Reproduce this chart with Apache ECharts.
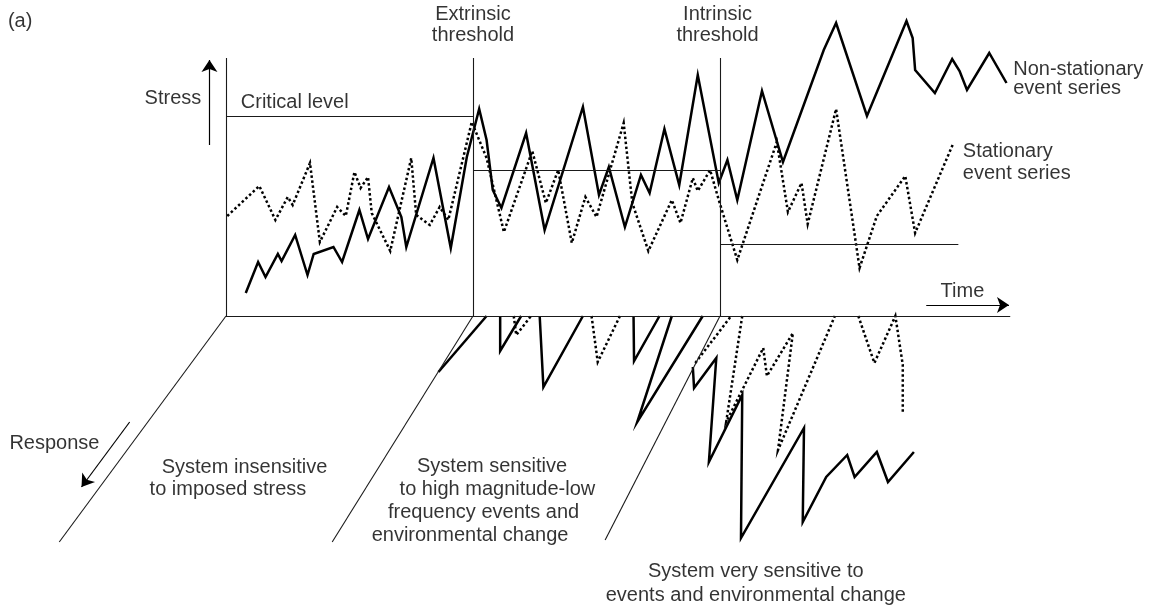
<!DOCTYPE html>
<html>
<head>
<meta charset="utf-8">
<script src="https://cdn.jsdelivr.net/npm/echarts@6/dist/echarts.min.js"></script>
<style>
  html, body { margin: 0; padding: 0; background: #fff; }
  #chart { width: 1155px; height: 609px; }
</style>
</head>
<body>
<div id="chart"></div>
<script>
// Time runs 0–100 through each regime (insensitive, sensitive, very sensitive);
// stress is scaled so the critical level sits at 100. Negative values below the
// time axis are system responses, drawn down toward the viewer.

// Stress event series: [time, stress]
const nonStationary = [
  [8, 11.5], [13, 27], [16, 19.5], [21, 31], [22.5, 27.5], [28, 40.5], [33, 20.5],
  [35.5, 31], [43.5, 34.5], [47, 27], [54, 53], [57.5, 38.5], [66, 64.5], [71, 49.5],
  [73, 34.5], [84, 79], [91, 34], [97.5, 79.5], [102.5, 103.5], [105.5, 88], [108, 63],
  [111.5, 54], [121.5, 91.5], [129, 43], [144.5, 104.5], [151, 60.5], [155, 74.5],
  [161.5, 44.5], [168, 70.5], [171.5, 61.5], [177.5, 93.5], [183.5, 65.5], [191, 120.5],
  [199.5, 66.5], [203, 78], [207, 58], [217, 112.5], [225.5, 77], [242, 133], [247, 146.5],
  [259.5, 100], [275.5, 147.5], [278, 139], [279, 123], [287, 111.5], [294, 128.5],
  [297, 122.5], [300, 113], [309, 131.5], [316, 116.5]
];
const stationary = [
  [0.5, 50], [13.5, 65], [20, 48], [25, 59.5], [27, 55.5], [34, 76.5], [38, 37],
  [45, 54.5], [48.5, 50], [52, 72], [54.5, 64], [57.5, 69.5], [59, 51.5], [66.5, 32.5],
  [75, 79], [77, 50.5], [82.5, 45.5], [86.5, 54.5], [90, 48], [99.5, 97], [105.5, 79],
  [112.5, 42], [124, 82.5], [129.5, 56.5], [134.5, 73], [140, 36.5], [145.5, 59.5],
  [150, 49.5], [161, 96.5], [164.5, 56.5], [171, 32.5], [180.5, 58], [184, 46.5],
  [189, 69], [191, 62.5], [196, 73], [199.5, 58], [207, 28], [223, 87], [227.5, 52],
  [233, 66.5], [235.5, 46], [247, 103.5], [256.5, 24], [263.5, 50], [275, 70],
  [279, 41.5], [294.5, 86.5]
];

// Response traces: [time, response] (response is negative = below the time axis)
const responseNonStationary = [
  [[105.5, 0], [86, -28]],
  [[111, 0], [111, -17.5], [119.5, 0]],
  [[127, 0], [128.5, -35.5], [144.5, 0]],
  [[165, 0], [165.2, -22.5], [175.5, 0]],
  [[180.5, 0], [166.5, -53], [193, 0]],
  [[189, -25.5], [189.5, -36], [198.5, -21], [195.5, -73], [209, -39.5], [208.5, -111],
   [234, -56], [233.5, -103], [243, -80.5], [251.5, -69.5], [254.5, -80.5], [263.5, -68],
   [268, -83], [278.5, -68]]
];
const responseStationary = [
  [[116.5, 0], [117.5, -9.5], [123.5, 0]],
  [[148, 0], [150.5, -23], [159.5, 0]],
  [[190, -23.5], [204.5, 0]],
  [[209, 0], [202.5, -53], [217.5, -16], [219, -30], [229.5, -8.5], [223.5, -67], [246.5, 0]],
  [[256, 0], [262.5, -23.5], [271, 0], [274, -24.5], [274, -48]]
];

// Reference levels and thresholds
const thresholdTimes = [0, 100, 200];
const thresholdTop = 129;
const criticalLevel = { level: 100, from: 0, to: 100 };
const extrinsicMean = { level: 73, from: 100, to: 200 };
const intrinsicMean = { level: 36, from: 200, to: 296.5 };
const timeAxisEnd = 317.5;
const responseAxisEnds = [[-67.5, -113], [43, -113], [153.5, -112]];

// Axis arrows
const stressArrow = [[-6.7, 85.5], [-6.7, 128]];
const timeArrow = [[283.5, 5.5], [317, 5.5]];
const responseArrow = [[-39, -53], [-58.5, -85.5]];

// Annotations: text and anchor in the same time/stress units
const annotations = [
  { text: '(a)', at: [-88.3, 147.5], align: 'left' },
  { text: 'Stress', at: [-10, 109], align: 'right' },
  { text: 'Critical level', at: [6, 107], align: 'left' },
  { text: 'Extrinsic\nthreshold', at: [100, 145.3], align: 'center', lh: 21 },
  { text: 'Intrinsic\nthreshold', at: [199, 145.3], align: 'center', lh: 21 },
  { text: 'Non-stationary\nevent series', at: [318.7, 118.6], align: 'left', lh: 19.5 },
  { text: 'Stationary\nevent series', at: [298.3, 76.8], align: 'left', lh: 21.5 },
  { text: 'Time', at: [289.3, 12.2], align: 'left' },
  { text: 'Response', at: [-87.7, -63.6], align: 'left' },
  { text: 'System insensitive', at: [7.5, -75.8], align: 'center' },
  { text: 'to imposed stress', at: [0.8, -86.6], align: 'center' },
  { text: 'System sensitive', at: [107.7, -75.4], align: 'center' },
  { text: 'to high magnitude-low', at: [109.9, -86.6], align: 'center' },
  { text: 'frequency events and', at: [104.3, -98], align: 'center' },
  { text: 'environmental change', at: [98.8, -109.5], align: 'center' },
  { text: 'System very sensitive to\nevents and environmental change', at: [214.5, -133.7], align: 'center', lh: 23.3 }
];

// Pixel geometry of the plotting plane
const W = 1155, H = 609;
const ORIGIN_X = 226, ORIGIN_Y = 316;   // where time 0 / stress 0 falls
const PX_PER_TIME = 2.47, PX_PER_STRESS = 2;

const FONT = '"Liberation Sans", Arial, Helvetica, sans-serif';
const INK = '#000';

const chart = echarts.init(document.getElementById('chart'), null, { renderer: 'canvas' });

function lineSeries(data, dotted, name) {
  return {
    type: 'line', name: name, data: data, showSymbol: false, symbol: 'none',
    silent: true, animation: false, clip: false, z: 3,
    lineStyle: { color: INK, width: 2.5, type: dotted ? [2.5, 2.5] : 'solid',
                 join: 'miter', cap: 'butt' }
  };
}

const seg = (a, b) => [{ coord: a }, { coord: b }];

const structure = [];
thresholdTimes.forEach(t => structure.push(seg([t, 0], [t, thresholdTop])));
[criticalLevel, extrinsicMean, intrinsicMean].forEach(l =>
  structure.push(seg([l.from, l.level], [l.to, l.level])));
structure.push(seg([0, 0], [timeAxisEnd, 0]));
responseAxisEnds.forEach((end, i) => structure.push(seg([thresholdTimes[i], 0], end)));

const series = [];
series.push({
  type: 'line', data: [], silent: true, animation: false,
  markLine: {
    silent: true, animation: false, symbol: ['none', 'none'],
    label: { show: false },
    lineStyle: { color: '#1a1a1a', width: 1.1, type: 'solid' },
    data: structure
  }
});
series.push({
  type: 'line', data: [], silent: true, animation: false,
  markLine: {
    silent: true, animation: false, symbol: ['none', 'arrow'], symbolSize: 12,
    label: { show: false },
    itemStyle: { color: INK },
    lineStyle: { color: INK, width: 1.2, type: 'solid' },
    data: [seg(stressArrow[0], stressArrow[1]), seg(timeArrow[0], timeArrow[1]),
           seg(responseArrow[0], responseArrow[1])]
  }
});
series.push(lineSeries(stationary, true, 'Stationary event series'));
series.push(lineSeries(nonStationary, false, 'Non-stationary event series'));
responseStationary.forEach(tr => series.push(lineSeries(tr, true)));
responseNonStationary.forEach(tr => series.push(lineSeries(tr, false)));

series.push({
  type: 'scatter', silent: true, animation: false, symbolSize: 0, z: 5,
  data: annotations.map(a => ({
    value: a.at, text: a.text,
    label: { align: a.align, lineHeight: a.lh || 22 }
  })),
  label: {
    show: true, position: 'inside', verticalAlign: 'middle',
    color: INK, fontFamily: FONT, fontSize: 20,
    formatter: p => p.data.text
  }
});

chart.setOption({
  backgroundColor: '#fff',
  animation: false,
  grid: { left: 0, right: 0, top: 0, bottom: 0, containLabel: false },
  xAxis: {
    type: 'value', show: false,
    min: -ORIGIN_X / PX_PER_TIME, max: (W - ORIGIN_X) / PX_PER_TIME
  },
  yAxis: {
    type: 'value', show: false,
    min: -(H - ORIGIN_Y) / PX_PER_STRESS, max: ORIGIN_Y / PX_PER_STRESS
  },
  series: series
});
</script>
</body>
</html>
